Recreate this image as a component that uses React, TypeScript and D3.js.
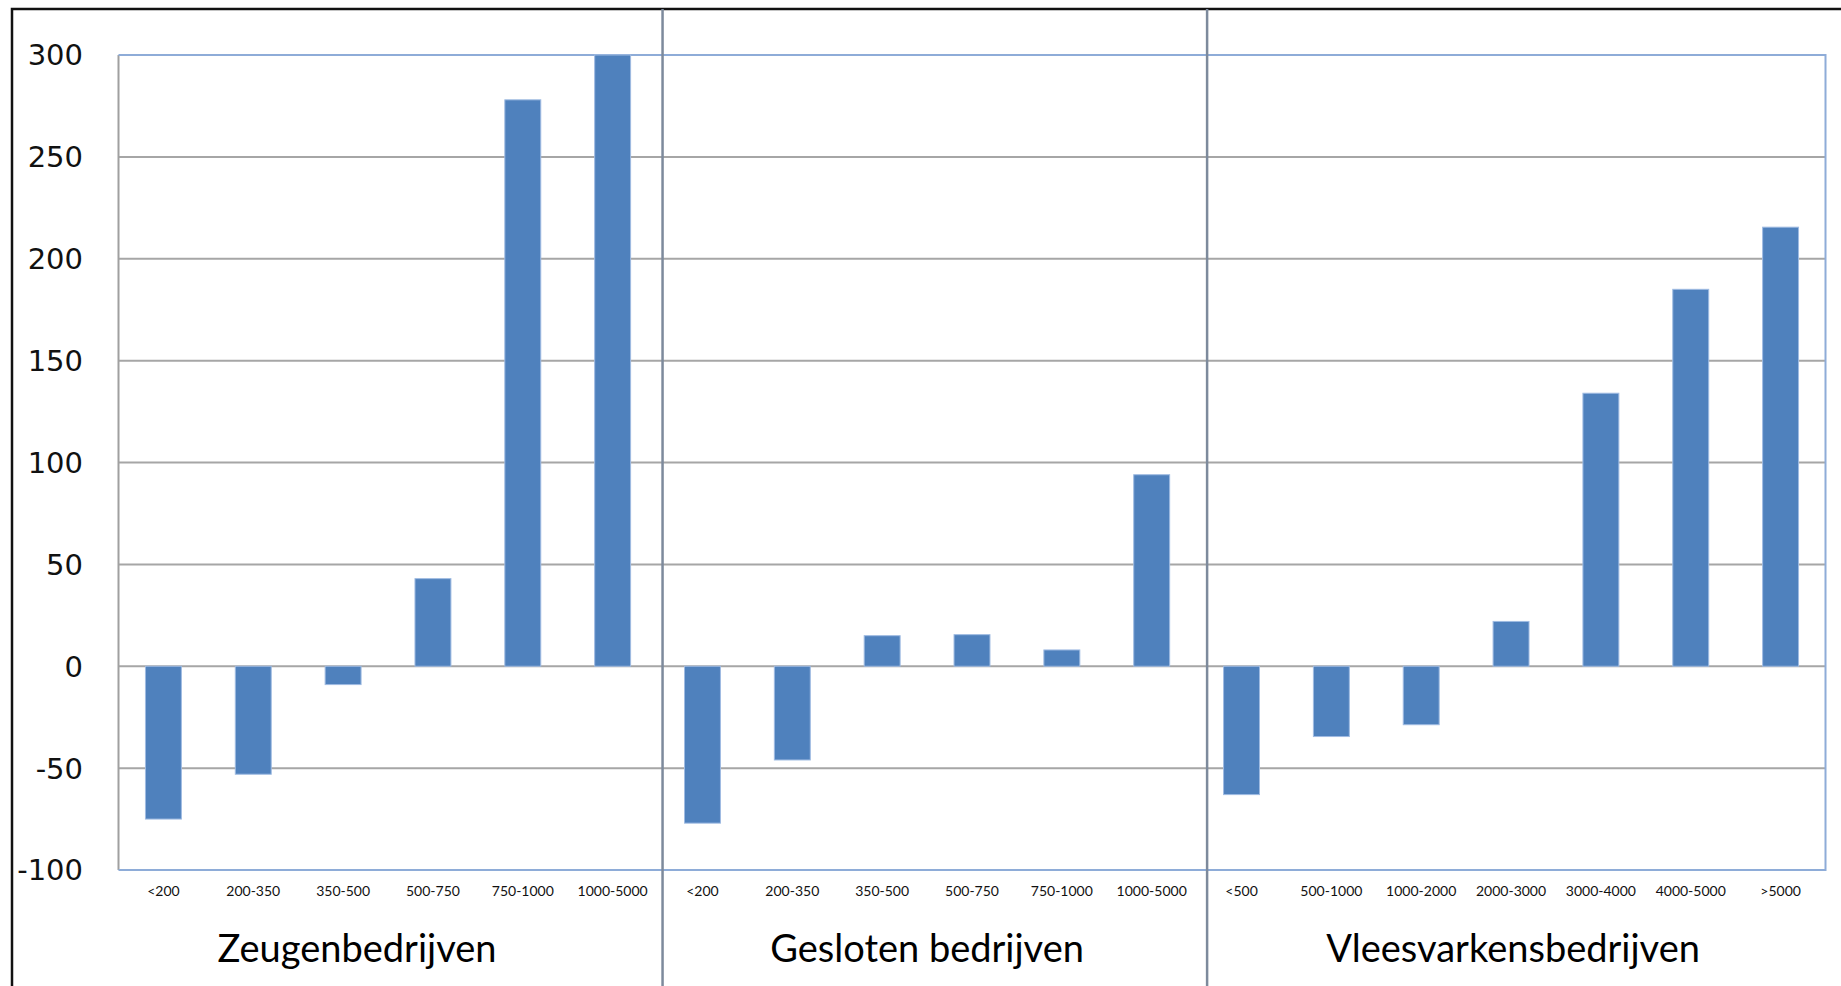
// App.tsx
// Grouped bar chart of pig farm size classes (three farm types)
import React from "react";
import * as d3 from "d3";

// farm types and their size classes
const groups = ["Zeugenbedrijven", "Gesloten bedrijven", "Vleesvarkensbedrijven"];
const zeugenClasses = ["<200", "200-350", "350-500", "500-750", "750-1000", "1000-5000"];
const geslotenClasses = ["<200", "200-350", "350-500", "500-750", "750-1000", "1000-5000"];
const vleesClasses = ["<500", "500-1000", "1000-2000", "2000-3000", "3000-4000", "4000-5000", ">5000"];

// values per size class
const zeugenValues = [-75, -53, -9, 43, 278, 300];
const geslotenValues = [-77, -46, 15, 15.5, 8, 94];
const vleesValues = [-63, -34.5, -28.7, 22, 134, 185, 215.5];

const yTicks = [-100, -50, 0, 50, 100, 150, 200, 250, 300];

interface Bar {
  key: string;
  group: number;
  label: string;
  value: number;
}

const W = 1841, H = 986;
const plot = { left: 118.5, right: 1825.5, top: 55, bottom: 870 };
// hand-drawn dividers sit a little right of the category boundaries
const dividerNudge = [5, 10.5];
const titleNudge = [-31, 0, 2];

export default function App() {
  const classes = [zeugenClasses, geslotenClasses, vleesClasses];
  const values = [zeugenValues, geslotenValues, vleesValues];
  const bars: Bar[] = [];
  classes.forEach((cls, g) =>
    cls.forEach((label, i) => bars.push({ key: `${g}|${label}`, group: g, label, value: values[g][i] }))
  );

  const x = d3.scaleBand<string>()
    .domain(bars.map(d => d.key))
    .range([plot.left, plot.right])
    .paddingInner(0.6)
    .paddingOuter(0.3);
  const y = d3.scaleLinear().domain([-100, 300]).range([plot.bottom, plot.top]);
  const step = x.step();
  const bw = x.bandwidth();

  const groupFirst = (g: number) => bars.find(b => b.group === g)!;
  const groupLast = (g: number) => bars.filter(b => b.group === g).slice(-1)[0];

  return (
    <svg width={W} height={H} style={{ position: "absolute", left: 0, top: 0, display: "block", background: "#fff" }}>
      {/* outer frame */}
      <path d={`M12,${H + 5}V9H${W + 5}`} fill="none" stroke="#111" strokeWidth={2.5} />

      {/* gridlines */}
      {yTicks.filter(t => t > -100 && t < 300).map(t => (
        <line key={t} x1={plot.left} x2={plot.right} y1={y(t)} y2={y(t)} stroke="#a6a6a6" strokeWidth={2} />
      ))}
      {/* plot area border */}
      <line x1={plot.left} x2={plot.left} y1={plot.top} y2={plot.bottom} stroke="#a0a0a0" strokeWidth={2} />
      <path d={`M${plot.left},${plot.top}H${plot.right}V${plot.bottom}H${plot.left}`} fill="none" stroke="#8eacd8" strokeWidth={2} />

      {/* bars */}
      {bars.map(b => (
        <rect key={b.key}
          x={x(b.key)!}
          y={y(Math.max(0, b.value))}
          width={bw}
          height={Math.abs(y(b.value) - y(0))}
          fill="#4f81bd"
          stroke="#9fbbe2"
          strokeWidth={1} />
      ))}

      {/* y tick labels */}
      {yTicks.map(t => (
        <text key={t} x={83} y={y(t)} dy="0.36em" textAnchor="end"
          fontFamily="DejaVu Sans, sans-serif" fontSize={29} fill="#111">{t}</text>
      ))}

      {/* x tick labels */}
      {bars.map(b => (
        <text key={b.key} x={x(b.key)! + bw / 2} y={896} textAnchor="middle"
          fontFamily="Lato, sans-serif" fontSize={14} fill="#111">{b.label}</text>
      ))}

      {/* group dividers */}
      {[1, 2].map((g, i) => {
        const xb = x(groupFirst(g).key)! - (step - bw) / 2 + dividerNudge[i];
        return <line key={g} x1={xb} x2={xb} y1={9} y2={H} stroke="#7d8a9c" strokeWidth={2.5} />;
      })}

      {/* group titles */}
      {groups.map((name, g) => {
        const cx = (x(groupFirst(g).key)! + x(groupLast(g).key)! + bw) / 2 + titleNudge[g];
        return (
          <text key={name} x={cx} y={962} textAnchor="middle"
            fontFamily="Lato, sans-serif" fontSize={38} fill="#000">{name}</text>
        );
      })}
    </svg>
  );
}
